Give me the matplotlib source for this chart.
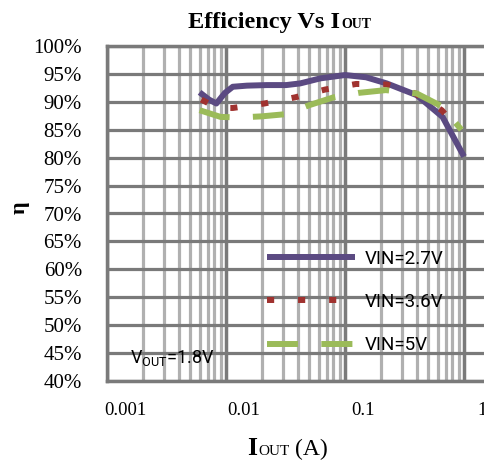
import numpy as np
import matplotlib.pyplot as plt
import matplotlib.transforms as mtransforms
from matplotlib.ticker import LogLocator, FixedLocator, NullFormatter

# efficiency data (I_OUT in A, efficiency in %)
iout_27 = [0.006, 0.0072, 0.0083, 0.0098, 0.0114, 0.015, 0.022, 0.032, 0.042, 0.062, 0.1, 0.15, 0.224, 0.4, 0.66, 1.0]
eff_27 = [91.7, 90.4, 89.7, 91.6, 92.7, 92.9, 93.0, 93.0, 93.3, 94.2, 94.8, 94.4, 93.3, 91.2, 87.3, 80.2]

iout_36 = [0.0062, 0.0085, 0.0114, 0.021, 0.038, 0.068, 0.124, 0.224, 0.39, 0.65, 0.93]
eff_36 = [90.4, 88.9, 88.9, 89.7, 90.8, 92.2, 93.2, 93.1, 91.5, 88.5, 84.8]

iout_5 = [0.006, 0.009, 0.013, 0.02, 0.032, 0.05, 0.08, 0.13, 0.22, 0.4, 0.65, 0.95]
eff_5 = [88.5, 87.3, 87.2, 87.4, 87.8, 89.4, 90.8, 91.6, 92.1, 91.5, 89.2, 85.0]

series_labels = ['VIN=2.7V', 'VIN=3.6V', 'VIN=5V']
y_ticks = [40, 45, 50, 55, 60, 65, 70, 75, 80, 85, 90, 95, 100]
x_ticks = [0.001, 0.01, 0.1, 1]
x_tick_labels = ['0.001', '0.01', '0.1', '1']

c_27 = '#5b4a82'
c_36 = '#a0322f'
c_5 = '#9bbb59'

fig = plt.figure(figsize=(4.84, 4.61), dpi=100)
ax = fig.add_axes([107/484, 1-381/461, 377/484, 335/461])

ax.set_xscale('log')
ax.set_xlim(0.001, 10**0.168)
ax.set_ylim(40, 100)

lw = 4.3
ax.plot(iout_27, eff_27, color=c_27, lw=lw, solid_capstyle='butt', label=series_labels[0], zorder=3)
ax.plot(iout_36, eff_36, color=c_36, lw=lw, dashes=(1.2, 4.0), dash_capstyle='butt', label=series_labels[1], zorder=4)
ax.plot(iout_5, eff_5, color=c_5, lw=lw, dashes=(5.2, 3.9), dash_capstyle='butt', label=series_labels[2], zorder=5)

# grid
ax.xaxis.set_major_locator(FixedLocator(x_ticks))
ax.xaxis.set_minor_locator(LogLocator(base=10, subs=np.arange(2, 10), numticks=20))
ax.xaxis.set_minor_formatter(NullFormatter())
ax.set_xticklabels(x_tick_labels)
ax.set_yticks(y_ticks)
ax.set_yticklabels([f'{v}%' for v in y_ticks])
ax.grid(which='major', axis='x', color='#7a7a7a', lw=2.5, zorder=1)
ax.grid(which='minor', axis='x', color='#b0b0b0', lw=2.3, zorder=0)
ax.grid(which='major', axis='y', color='#7a7a7a', lw=2.3, zorder=1)
ax.set_axisbelow(True)

for s in ['left', 'bottom', 'top']:
    ax.spines[s].set_color('#7a7a7a')
    ax.spines[s].set_linewidth(2.5)
ax.spines['right'].set_visible(False)

ax.tick_params(which='both', length=0)
ax.tick_params(axis='x', pad=15, labelsize=13.5)
ax.tick_params(axis='y', pad=18, labelsize=15)
for t in ax.get_xticklabels():
    t.set_fontfamily('Liberation Serif')
    t.set_transform(t.get_transform() + mtransforms.ScaledTranslation(0.18, 0, fig.dpi_scale_trans))
for t in ax.get_yticklabels():
    t.set_fontfamily('Liberation Serif')

# title and axis labels (OUT set smaller, like small caps)
fig.text(340/484, 1-28/461, 'Efficiency Vs I', ha='right', va='baseline', fontsize=17.5,
         fontweight='bold', family='Liberation Serif')
fig.text(341/484, 1-28/461, 'OUT', ha='left', va='baseline', fontsize=10,
         fontweight='bold', family='Liberation Serif')
fig.text(257/484, 1-455/461, 'I', ha='right', va='baseline', fontsize=18.5,
         fontweight='bold', family='Liberation Serif')
fig.text(258/484, 1-455/461, 'OUT', ha='left', va='baseline', fontsize=11,
         family='Liberation Serif')
fig.text(295/484, 1-455/461, '(A)', ha='left', va='baseline', fontsize=17,
         family='Liberation Serif')
fig.text(20/484, 1-208/461, '\u03b7', ha='center', va='center', fontsize=16,
         fontweight='bold', family='Liberation Serif', rotation=90)

ax.text(0.06, 0.068, 'V$_{\\mathregular{OUT}}$=1.8V', transform=ax.transAxes, ha='left', va='center',
        fontsize=13, family='Roboto')

leg = ax.legend(loc='upper left', bbox_to_anchor=(0.40, 0.42), frameon=False,
                handlelength=4.7, handletextpad=0.5, labelspacing=1.35, borderpad=0,
                prop={'family': 'Roboto', 'size': 13.5})

fig.savefig('out.png', dpi=100)
